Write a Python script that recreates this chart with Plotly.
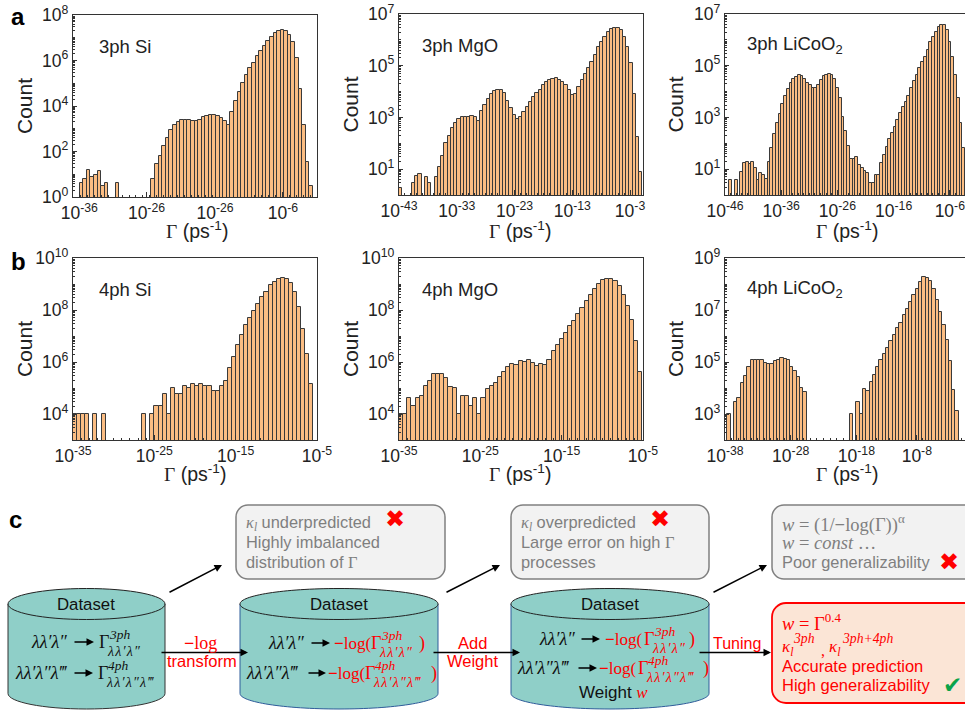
import plotly.graph_objects as go

W, H = 965, 710
FILL = "#FBBD83"
EDGE = "#3a3a3a"
AX = "#333333"
SANS = "Liberation Sans"
SERIF = "Liberation Serif"
GREY = "#7F7F7F"
RED = "#FF0000"

# ---------- histogram data: log10(count) per bin, None = empty bin ----------
a1_name = "3ph Si"
a1_edges = (-35.05, -1.71)
a1_vals = [.6,.78,1.2,.9,.95,1.15,.48,.6,None,None,.6,None,None,None,None,None,None,None,None,None,
           .78,1.47,1.8,2.25,2.6,2.94,3.15,3.3,3.38,3.4,3.4,3.36,3.36,3.4,3.5,3.56,3.6,3.62,3.56,3.47,3.33,3.15,
           3.74,4.23,4.62,5.0,5.35,5.65,5.87,6.2,6.43,6.63,6.87,7.05,7.22,7.31,7.35,7.31,7.12,6.8,6.1,4.74,3.15,1.54,.48]
a2_name = "3ph MgO"
a2_edges = (-43.0, -0.88)
a2_vals = [.26,None,None,None,.45,.75,.81,None,.68,.48,None,.68,1.1,1.5,2.0,2.28,2.58,2.77,2.93,3.0,3.0,3.0,3.04,3.0,2.87,
           3.26,3.47,3.7,3.9,4.03,4.08,4.08,3.93,3.63,3.35,3.09,2.94,3.0,3.22,3.41,3.6,3.8,3.93,4.08,4.25,4.37,4.45,4.5,4.51,
           4.45,4.36,4.25,4.06,3.87,3.89,4.16,4.45,4.68,4.9,5.15,5.4,5.73,5.93,6.12,6.29,6.42,6.47,6.47,6.4,6.12,5.73,5.09,3.89,2.23,.88]
a3_name = "3ph LiCoO<sub>2</sub>"
a3_edges = (-45.23, -3.3)
a3_vals = [.58,None,.58,None,.88,1.22,1.29,1.2,1.26,1.03,.58,.84,.77,.6,1.29,1.8,2.36,2.77,3.12,3.52,3.83,4.11,4.32,4.48,4.57,4.63,4.6,
           4.47,4.34,4.25,4.15,4.12,4.25,4.45,4.6,4.65,4.69,4.64,4.47,4.15,3.76,3.03,2.47,1.9,1.38,1.38,1.48,1.16,1.03,.94,.84,.45,.45,
           .76,.76,1.22,1.55,1.87,2.16,2.38,2.64,2.9,3.16,3.39,3.6,3.84,4.12,4.4,4.64,4.9,5.15,5.35,5.6,5.93,6.12,6.31,6.48,6.56,6.56,6.38,5.93,5.35,4.64,3.74,2.77,1.8]
b1_name = "4ph Si"
b1_edges = (-35.0, -5.45)
b1_vals = [4,4,4,4,None,4,None,4,None,None,None,None,None,None,None,None,None,4,None,4,4.3,4.3,4.77,4,5,4.77,4.77,5.06,5,5.15,5.07,5.17,5.06,5.06,
           4.9,4.9,5.06,5.28,5.78,6.2,6.67,7.03,7.41,7.69,7.98,8.24,8.5,8.71,8.95,9.07,9.18,9.23,9.2,9.04,8.71,8.11,7.28,6.32,5.17]
b2_name = "4ph MgO"
b2_edges = (-35.0, -5.08)
b2_vals = [4,4,4.6,4.3,4.6,4.7,5.07,5.26,5.52,5.52,5.52,5.37,5.05,5,4,4.7,4.7,4.3,4.6,4,4.6,4.95,5.07,5.2,5.42,5.62,5.79,5.94,5.9,6.04,6,6.07,5.98,5.85,5.94,5.88,6.07,
           6.41,6.64,6.87,7.12,7.37,7.59,7.86,8.09,8.35,8.56,8.79,9,9.14,9.2,9.2,9.1,8.91,8.56,8.15,7.6,6.81,5.62]
b3_name = "4ph LiCoO<sub>2</sub>"
b3_edges = (-37.64, -2.42)
b3_vals = [3,None,3.47,3.6,4.2,4.46,4.8,5.07,5.08,5.09,5.07,4.98,4.93,4.94,5.04,5.07,5.16,5.13,5.09,4.8,4.65,4.43,4,3.85,
           None,None,None,None,None,None,None,None,None,None,None,None,None,3,None,3.47,3,3.96,3.9,4.24,4.49,4.81,5.07,5.32,5.55,5.8,6.05,6.3,6.5,6.8,7.05,7.3,7.56,7.82,8.07,8.26,8.24,8.1,7.82,7.37,6.92,6.41,5.84,5.04,3.92,3.1]

# ---------- axes: tick values + labels ----------
a1_xticks, a1_xlabels = [-35.1,-25.5,-15.7,-6], ["-36","-26","-26","-6"]
a2_xticks, a2_xlabels = [-43,-33,-23,-13,-3], ["-43","-33","-23","-13","-3"]
a3_xticks, a3_xlabels = [-46,-36,-26,-16,-6], ["-46","-36","-26","-16","-6"]
b1_xticks, b1_xlabels = [-35,-25,-15,-5], ["-35","-25","-15","-5"]
b2_xticks, b2_xlabels = [-35,-25,-15,-5], ["-35","-25","-15","-5"]
b3_xticks, b3_xlabels = [-38,-28,-18,-8.8], ["-38","-28","-18","-8"]

panels = [
    dict(n=a1_name, e=a1_edges, v=a1_vals, xt=a1_xticks, xl=a1_xlabels, x0=73, x1=317, y0=15, y1=197, xr=(-36,-1.14), yr=(0,8), lab=99, cx=24, gx=197, gy=230),
    dict(n=a2_name, e=a2_edges, v=a2_vals, xt=a2_xticks, xl=a2_xlabels, x0=399, x1=643, y0=14, y1=195, xr=(-43,-0.76), yr=(0,7), lab=422, cx=350, gx=520, gy=230),
    dict(n=a3_name, e=a3_edges, v=a3_vals, xt=a3_xticks, xl=a3_xlabels, x0=725, x1=965, y0=14, y1=195, xr=(-46,-3.3), yr=(0,7), lab=747, cx=675, gx=847, gy=230),
    dict(n=b1_name, e=b1_edges, v=b1_vals, xt=b1_xticks, xl=b1_xlabels, x0=73, x1=317, y0=258, y1=440, xr=(-35,-5), yr=(3,10), lab=99, cx=24, gx=195, gy=473),
    dict(n=b2_name, e=b2_edges, v=b2_vals, xt=b2_xticks, xl=b2_xlabels, x0=399, x1=643, y0=258, y1=440, xr=(-35,-5), yr=(3,10), lab=422, cx=350, gx=520, gy=473),
    dict(n=b3_name, e=b3_edges, v=b3_vals, xt=b3_xticks, xl=b3_xlabels, x0=725, x1=965, y0=258, y1=440, xr=(-38,-1.47), yr=(2,9), lab=747, cx=675, gx=847, gy=473),
]

def X(px): return px / W
def Y(py): return 1 - py / H

fig = go.Figure()
layout = {}
annos = []
shapes = []

def txt(x, y, text, size=15, color="black", anchor="left", family=SANS, **kw):
    pad = 2 if anchor == "left" else 0
    annos.append(dict(x=X(x - pad), y=Y(y), xref="paper", yref="paper", text=text, showarrow=False,
                      xanchor=anchor, yanchor="middle", font=dict(size=size, color=color, family=family), **kw))

GAM = "<span style='font-family:Liberation Serif'>Γ</span> (ps<sup>-1</sup>)"
for i, p in enumerate(panels, start=1):
    width = (p["e"][1] - p["e"][0]) / len(p["v"])
    xs = [p["e"][0] + (k + .5) * width for k in range(len(p["v"]))]
    ys = [None if v is None else 10 ** v for v in p["v"]]
    s = "" if i == 1 else str(i)
    fig.add_bar(x=xs, y=ys, width=width, xaxis="x" + s, yaxis="y" + s, name=p["n"], showlegend=False,
                marker=dict(color=FILL, line=dict(color=EDGE, width=1)))
    lo, hi = p["yr"]
    major = list(range(hi, lo - 1, -2))
    minors = [m * 10 ** k for k in range(lo, hi) for m in range(1, 10) if not (m == 1 and k in major)]
    layout["xaxis" + s] = dict(
        domain=[X(p["x0"]), X(p["x1"])], range=list(p["xr"]), anchor="y" + s, automargin=False,
        tickmode="array", tickvals=p["xt"], ticktext=["10<sup>%s</sup>" % t for t in p["xl"]],
        ticks="inside", ticklen=5, tickwidth=1, tickcolor=AX, showgrid=False, zeroline=False,
        showline=True, linecolor=AX, linewidth=1.3, mirror=True, ticklabeloverflow="allow",
        tickfont=dict(family=SANS, size=17.5, color="#222"),
        minor=dict(dtick=1, ticks="inside", ticklen=2, tickcolor=AX, showgrid=False),
    )
    layout["yaxis" + s] = dict(
        domain=[Y(p["y1"]), Y(p["y0"])], type="log", range=[lo, hi], anchor="x" + s, automargin=False,
        tickmode="array", tickvals=[10.0 ** k for k in major],
        ticktext=["10<sup>%d</sup>" % k for k in major],
        ticks="inside", ticklen=4, tickwidth=1, tickcolor=AX, showgrid=False, zeroline=False,
        showline=True, linecolor=AX, linewidth=1.3, mirror=p["x1"] < W, ticklabeloverflow="allow",
        tickfont=dict(family=SANS, size=17.5, color="#222"),
        minor=dict(tickmode="array", tickvals=minors, ticks="inside", ticklen=2, tickcolor=AX, showgrid=False),
    )
    txt(p["lab"], p["y0"] + 31, p["n"], size=18.5, color="#222")
    txt(p["cx"], (p["y0"] + p["y1"]) / 2, "Count", size=21, color="#222", anchor="center", textangle=-90)
    txt(p["gx"], p["gy"], GAM, size=19.5, color="#222", anchor="center")

# panel letters
for letter, lx, ly in [("a", 11, 17), ("b", 11, 262), ("c", 9, 519)]:
    txt(lx, ly, "<b>%s</b>" % letter, size=24)

# ---------- schematic ----------
def rrect(x0, y0, x1, y1, r, fill, line, lw):
    k = r * .45
    d = (f"M{X(x0+r)},{Y(y0)} L{X(x1-r)},{Y(y0)} C{X(x1-k)},{Y(y0)} {X(x1)},{Y(y0+k)} {X(x1)},{Y(y0+r)} "
         f"L{X(x1)},{Y(y1-r)} C{X(x1)},{Y(y1-k)} {X(x1-k)},{Y(y1)} {X(x1-r)},{Y(y1)} "
         f"L{X(x0+r)},{Y(y1)} C{X(x0+k)},{Y(y1)} {X(x0)},{Y(y1-k)} {X(x0)},{Y(y1-r)} "
         f"L{X(x0)},{Y(y0+r)} C{X(x0)},{Y(y0+k)} {X(x0+k)},{Y(y0)} {X(x0+r)},{Y(y0)} Z")
    shapes.append(dict(type="path", path=d, xref="paper", yref="paper", fillcolor=fill, line=dict(color=line, width=lw)))

def cylinder(x0, x1, top, bot, ry, side):
    cx, rx = (x0 + x1) / 2, (x1 - x0) / 2
    c = .5523
    ym = top
    body = (f"M{X(x0)},{Y(ym)} L{X(x0)},{Y(bot-ry)} C{X(x0)},{Y(bot-ry+c*ry)} {X(cx-c*rx)},{Y(bot)} {X(cx)},{Y(bot)} "
            f"C{X(cx+c*rx)},{Y(bot)} {X(x1)},{Y(bot-ry+c*ry)} {X(x1)},{Y(bot-ry)} L{X(x1)},{Y(ym)} Z")
    shapes.append(dict(type="path", path=body, xref="paper", yref="paper", fillcolor="#8FCFC8", line=dict(color=side, width=1)))
    lid = (f"M{X(x0)},{Y(ym)} C{X(x0)},{Y(ym-c*ry)} {X(cx-c*rx)},{Y(ym-ry)} {X(cx)},{Y(ym-ry)} "
           f"C{X(cx+c*rx)},{Y(ym-ry)} {X(x1)},{Y(ym-c*ry)} {X(x1)},{Y(ym)} "
           f"C{X(x1)},{Y(ym+c*ry)} {X(cx+c*rx)},{Y(ym+ry)} {X(cx)},{Y(ym+ry)} "
           f"C{X(cx-c*rx)},{Y(ym+ry)} {X(x0)},{Y(ym+c*ry)} {X(x0)},{Y(ym)} Z")
    shapes.append(dict(type="path", path=lid, xref="paper", yref="paper", fillcolor="#8FCFC8", line=dict(color="#222", width=1)))

rrect(236, 505, 445, 579, 12, "#F2F2F2", "#808080", 1.5)
rrect(511, 505, 709, 579, 12, "#F2F2F2", "#808080", 1.5)
rrect(772, 505, 985, 579, 12, "#F2F2F2", "#808080", 1.5)
rrect(772, 603, 985, 703, 14, "#FBE5D6", "#FF0000", 1.8)
cylinder(8, 165, 604, 709, 15.5, "#333")
cylinder(240, 438, 604, 709, 15.5, "#2F5C9A")
cylinder(511, 709, 604, 709, 15.5, "#2F5C9A")

def arrow(x0, y0, x1, y1, lw=1.5, size=1.0):
    annos.append(dict(x=X(x1), y=Y(y1), xref="paper", yref="paper", ax=x0 - x1, ay=y0 - y1, axref="pixel", ayref="pixel",
                      text="", showarrow=True, arrowhead=2, arrowsize=size, arrowwidth=lw, arrowcolor="black"))

for a in [(168, 593, 222, 565), (445, 593, 500, 565), (712, 593, 767, 565),
          (160, 652.5, 248, 652.5), (432, 652.5, 520, 652.5), (698, 652.5, 771, 652.5),
          (73, 642, 94, 642), (73, 673, 93, 673), (310, 643, 330, 643), (307, 673, 326, 673),
          (580, 639, 600, 639), (577, 668, 597, 668)]:
    arrow(*a)

for cx in (86, 339, 610):
    txt(cx, 604, "Dataset", size=16.8, anchor="center", color="#111")

L2 = "λλ′λ″"
L3 = "λλ′λ″λ‴"
L2S = "\u200a".join("λλ′λ″")
L3S = "\u200a".join("λλ′λ″λ‴")
def it(s): return "<i>%s</i>" % s

def gamma(x, y, sup, sub, color="#111", prefix_x=None, close_x=None):
    if prefix_x is not None:
        txt(prefix_x, y, "<b>−</b>log(", size=17, color=color, family=SERIF)
    txt(x + 1, y, "Γ", size=18, color=color, family=SERIF)
    txt(x + 11, y - 8, it(sup), size=13.5, color=color, family=SERIF)
    txt(x + 9, y + 9, it(sub), size=14, color=color, family=SERIF)
    if close_x is not None:
        txt(close_x, y, ")", size=18, color=color, family=SERIF)

txt(31, 642, it(L2), size=18, family=SERIF, color="#111")
gamma(98, 642, "3ph", L2S)
txt(15, 673, it(L3), size=18, family=SERIF, color="#111")
gamma(97, 673, "4ph", L3S)

txt(268, 643, it(L2), size=18, family=SERIF, color="#111")
gamma(370, 643, "3ph", L2S, RED, 334, 419)
txt(246, 673, it(L3), size=18, family=SERIF, color="#111")
gamma(364, 673, "4ph", L3S, RED, 328, 431)

txt(539, 639, it(L2), size=18, family=SERIF, color="#111")
gamma(643, 639, "3ph", L2S, RED, 605, 689)
txt(517, 668, it(L3), size=18, family=SERIF, color="#111")
gamma(637, 668, "4ph", L3S, RED, 599, 703)
txt(613, 692, "Weight <span style='font-family:Liberation Serif;color:#FF0000'><i>w</i></span>", size=17, anchor="center", color="#111")

txt(200, 643, "<b>−</b>log", size=18, color=RED, anchor="center", family=SERIF)
txt(202, 661, "transform", size=16.5, color=RED, anchor="center")
txt(472, 643, "Add", size=16.5, color=RED, anchor="center")
txt(472, 661, "Weight", size=16.5, color=RED, anchor="center")
txt(737, 643, "Tuning", size=16, color=RED, anchor="center")

KAPPA = "<span style='font-family:Liberation Serif'><i>κ<sub>l</sub></i></span>"
txt(246, 523, KAPPA + " underpredicted", size=16.4, color=GREY)
txt(246, 542, "Highly imbalanced", size=16.4, color=GREY)
txt(246, 562, "distribution of <span style='font-family:Liberation Serif'>Γ</span>", size=16.4, color=GREY)
txt(395, 519, "✖", size=24, color=RED, anchor="center", family="DejaVu Sans")

txt(521, 523, KAPPA + " overpredicted", size=16.4, color=GREY)
txt(521, 542, "Large error on high <span style='font-family:Liberation Serif'>Γ</span>", size=16.4, color=GREY)
txt(521, 562, "processes", size=16.4, color=GREY)
txt(660, 519, "✖", size=24, color=RED, anchor="center", family="DejaVu Sans")

txt(782, 523, "<i>w</i> = (1/<b>−</b>log(Γ))<sup>α</sup>", size=18.5, color=GREY, family=SERIF)
txt(782, 543, "<i>w</i> = <i>const</i> …", size=18.5, color=GREY, family=SERIF)
txt(782, 562, "Poor generalizability", size=16.4, color=GREY)
txt(949, 562, "✖", size=24, color=RED, anchor="center", family="DejaVu Sans")

txt(782, 622, "<i>w</i> = Γ<sup>0.4</sup>", size=18.5, color=RED, family=SERIF)
txt(782, 648, it("κ<sub>l</sub>"), size=17, color=RED, family=SERIF)
txt(793, 638, it("3ph"), size=13.7, color=RED, family=SERIF)
txt(821, 650, ",", size=16, color=RED, family=SERIF)
txt(829, 648, it("κ<sub>l</sub>"), size=17, color=RED, family=SERIF)
txt(842, 638, it("3ph+4ph"), size=13.7, color=RED, family=SERIF)
txt(782, 666, "Accurate prediction", size=16.5, color=RED)
txt(782, 685, "High generalizability", size=16.5, color=RED)
txt(952, 685, "✔", size=23, color="#0AA34A", anchor="center", family="DejaVu Sans")

fig.update_layout(width=W, height=H, margin=dict(l=0, r=0, t=0, b=0), paper_bgcolor="white", plot_bgcolor="white",
                  bargap=0, annotations=annos, shapes=shapes, **layout)
fig.write_html("out.html", config=dict(displayModeBar=False),
               post_script="document.body.style.margin='0';document.body.style.overflow='hidden';")
